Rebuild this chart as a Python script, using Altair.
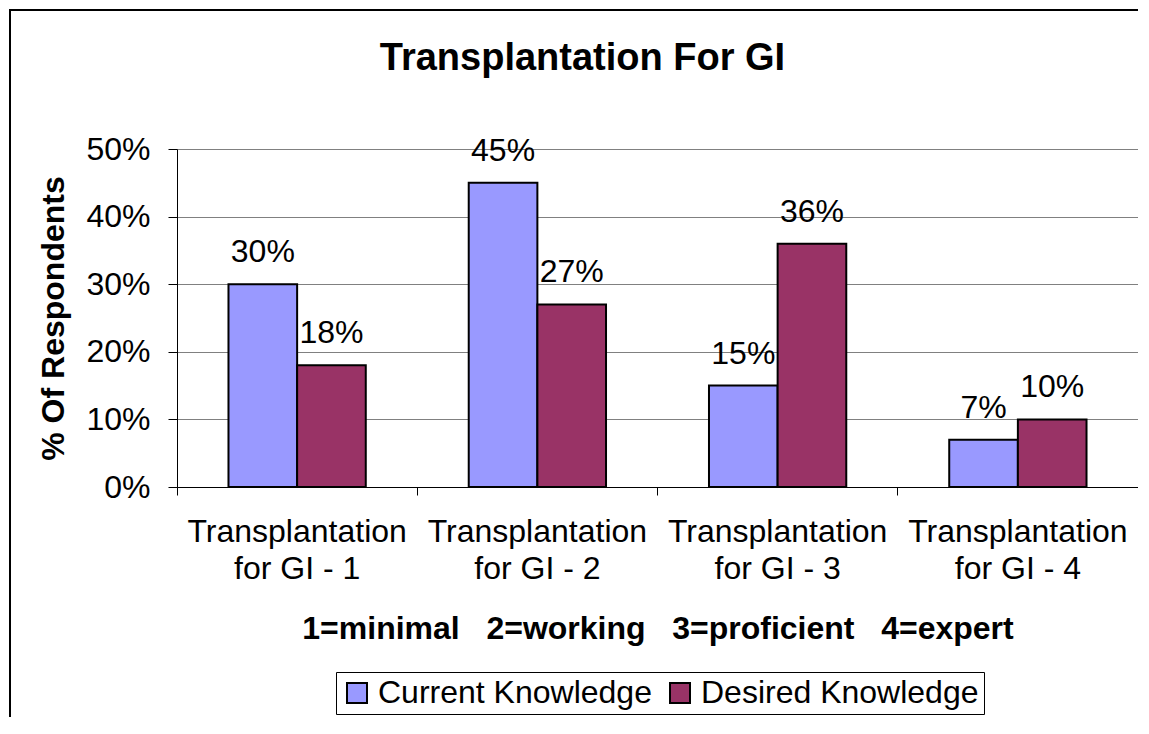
import altair as alt
import pandas as pd

categories = ["Transplantation for GI - 1", "Transplantation for GI - 2",
              "Transplantation for GI - 3", "Transplantation for GI - 4"]
series = ["Current Knowledge", "Desired Knowledge"]
current = [0.30, 0.45, 0.15, 0.07]
desired = [0.18, 0.27, 0.36, 0.10]
colors = ["#9999ff", "#993366"]
y_ticks = [0, 0.1, 0.2, 0.3, 0.4, 0.5]

rows = []
for c, v in zip(categories, current):
    rows.append({"category": c, "series": series[0], "value": v})
for c, v in zip(categories, desired):
    rows.append({"category": c, "series": series[1], "value": v})
df = pd.DataFrame(rows)

FONT = "Liberation Sans"
W, H = 961, 338
FS = 32
NB = "\u00a0"
x_title = ("1=minimal" + NB * 3 + "2=working" + NB * 3 + "3=proficient"
           + NB * 3 + "4=expert")

x_enc = alt.X("category:N", sort=categories,
              scale=alt.Scale(paddingInner=0, paddingOuter=0),
              axis=alt.Axis(
                  title=x_title,
                  titleFont=FONT, titleFontSize=FS, titleFontWeight="bold",
                  titleColor="black", titleX=W / 2, titleY=141,
                  titleBaseline="middle", titleAlign="center",
                  labelExpr="[slice(datum.label, 0, 15), slice(datum.label, 16)]",
                  labelFont=FONT, labelFontSize=FS, labelColor="black",
                  labelAngle=0, labelLineHeight=37, labelPadding=21,
                  labelBaseline="top", labelLimit=400,
                  bandPosition=0, tickSize=8, tickColor="black",
                  domainColor="black", grid=False))
xoff = alt.XOffset("series:N", sort=series,
                   scale=alt.Scale(paddingOuter=0.75, paddingInner=0))
y_enc = alt.Y("value:Q", scale=alt.Scale(domain=[0, 0.5], nice=False),
              axis=alt.Axis(
                  title="% Of Respondents", titleFont=FONT, titleFontSize=FS,
                  titleFontWeight="bold", titleColor="black",
                  titleAngle=270, titleX=-124, titleY=H / 2,
                  titleAlign="center", titleBaseline="middle",
                  values=y_ticks, format=".0%", labelFont=FONT,
                  labelFontSize=FS, labelColor="black", labelPadding=18,
                  tickSize=9, tickColor="black", domainColor="black",
                  grid=True, gridColor="#808080", gridWidth=1))

color_enc = alt.Color("series:N", sort=series,
                      scale=alt.Scale(domain=series, range=colors),
                      legend=alt.Legend(
                          title=None, orient="none", direction="horizontal",
                          legendX=159, legendY=523,
                          symbolType="square", symbolSize=400,
                          symbolStrokeColor="black", symbolStrokeWidth=2,
                          symbolOpacity=1,
                          labelFont=FONT, labelFontSize=FS, labelColor="black",
                          labelOffset=5, columnPadding=12,
                          strokeColor="black", fillColor="white", padding=5,
                          labelLimit=500))

bars = alt.Chart(df).mark_bar(stroke="black", strokeWidth=2, opacity=1).encode(
    x=x_enc, xOffset=xoff, y=y_enc, color=color_enc)

labels = alt.Chart(df).mark_text(
    font=FONT, fontSize=FS, color="black", baseline="bottom", dy=-15
).encode(x=alt.X("category:N", sort=categories), xOffset=xoff,
         y=alt.Y("value:Q"), text=alt.Text("value:Q", format=".0%"))

border = alt.Chart(pd.DataFrame({"a": [0]})).mark_rect(
    fill=None, stroke="black", strokeWidth=2
).encode(x=alt.value(-167), x2=alt.value(1100), y=alt.value(-139), y2=alt.value(700))

chart = alt.layer(border, bars, labels).properties(
    width=W, height=H,
    title=alt.TitleParams("Transplantation For GI", font=FONT, fontSize=38,
                          fontWeight="bold", color="black", anchor="middle",
                          baseline="alphabetic", dx=-75, offset=-99),
    autosize=alt.AutoSizeParams(type="none"),
    padding={"left": 169, "top": 141, "right": 0, "bottom": 230},
).configure_view(fill="#c0c0c0", stroke="#808080", strokeWidth=2
).configure(background="white")

chart.save("out.html", embed_options={"renderer": "svg", "actions": False})
